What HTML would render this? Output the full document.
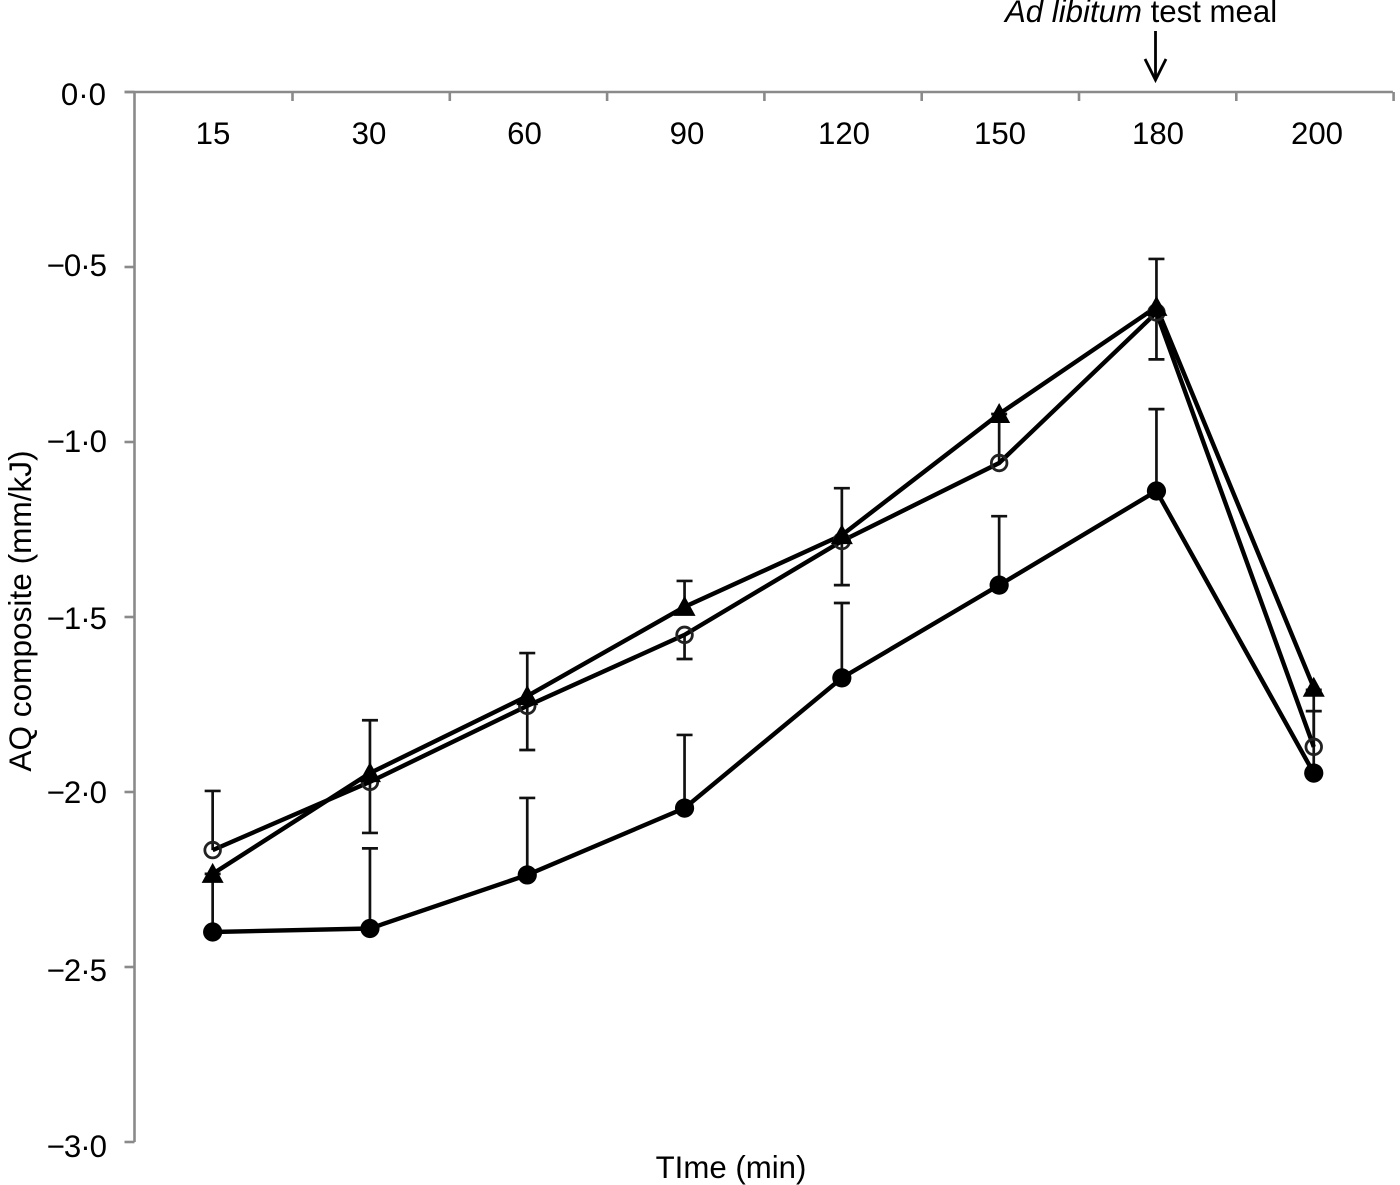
<!DOCTYPE html>
<html lang="en">
<head>
<meta charset="utf-8">
<title>AQ composite over time</title>
<style>
html,body{margin:0;padding:0;background:#fff;width:1400px;height:1185px;overflow:hidden}
svg{display:block;font-family:"Liberation Sans",sans-serif;fill:#000}
text{font-size:31.2px}
.neg{letter-spacing:-1px}
</style>
</head>
<body>
<svg id="chart" xmlns="http://www.w3.org/2000/svg" width="1400" height="1185" viewBox="0 0 1400 1185">
  <text x="1005" y="22"><tspan font-style="italic">Ad libitum</tspan> test meal</text>
  <g fill="none" stroke="#000" stroke-width="2.8">
    <line x1="1155.5" y1="31" x2="1155.5" y2="79"/>
    <polyline points="1145,59 1155.5,80 1166,59"/>
  </g>
  <text transform="translate(31,611) rotate(-90)" text-anchor="middle" style="font-size:31.6px">AQ composite (mm/kJ)</text>
  <text x="731" y="1178" text-anchor="middle">TIme (min)</text>
  <g text-anchor="end">
    <text x="106" y="105">0·0</text>
    <text class="neg" x="106" y="276">−0·5</text>
    <text class="neg" x="106" y="452">−1·0</text>
    <text class="neg" x="106" y="629">−1·5</text>
    <text class="neg" x="106" y="803">−2·0</text>
    <text class="neg" x="106" y="981">−2·5</text>
    <text class="neg" x="106" y="1157">−3·0</text>
  </g>
  <g text-anchor="middle">
    <text x="213" y="144">15</text>
    <text x="369" y="144">30</text>
    <text x="524.5" y="144">60</text>
    <text x="687" y="144">90</text>
    <text x="844" y="144">120</text>
    <text x="1000" y="144">150</text>
    <text x="1158" y="144">180</text>
    <text x="1317" y="144">200</text>
  </g>
</svg>
<script>
const categories = ['15','30','60','90','120','150','180','200'];
const yTicks = [0,-0.5,-1,-1.5,-2,-2.5,-3];

const filledValues = [-2.40,-2.39,-2.237,-2.046,-1.674,-1.409,-1.14,-1.946];
const openValues = [-2.166,-1.971,-1.754,-1.551,-1.283,-1.06,-0.63,-1.871];
const triangleValues = [-2.234,-1.946,-1.726,-1.471,-1.266,-0.92,-0.614,-1.702];

const filledErrUp = [0.166,0.229,0.22,0.209,0.214,0.197,0.234,0.177];
const openErrUp = [0.169,null,null,null,null,0.14,null,0.163];
const openErrDown = [null,0.146,0.126,0.069,0.126,null,0.134,null];
const triangleErrUp = [null,0.151,0.123,0.074,0.134,null,0.137,null];

const svg = document.getElementById('chart');
const NS = 'http://www.w3.org/2000/svg';
const plotLeft = 134.5, bandWidth = 157.3, zeroY = 92, unitY = 350;
const xAt = i => plotLeft + bandWidth * (i + 0.5) - 0.5;
const yAt = v => zeroY - unitY * v;

function make(tag, attrs, parent) {
  const el = document.createElementNS(NS, tag);
  for (const k in attrs) el.setAttribute(k, attrs[k]);
  (parent || svg).appendChild(el);
  return el;
}

const axisAttrs = {stroke:'#8a8a8a','stroke-width':2.6};
const yAxis = make('line', Object.assign({x1:plotLeft,x2:plotLeft,y1:yAt(0),y2:yAt(-3)}, axisAttrs));


const xAxis = make('line', Object.assign({x1:plotLeft-10,x2:plotLeft+bandWidth*8,y1:yAt(0),y2:yAt(0)}, axisAttrs));



yTicks.forEach((t) => {
  const tick = make('line', Object.assign({x1:plotLeft-10,x2:plotLeft,y1:yAt(t),y2:yAt(t)}, axisAttrs));
  
  
});

categories.forEach((c, i) => {
  const tx = plotLeft + bandWidth * (i + 1) + 0.7;
  const tick = make('line', Object.assign({x1:tx,x2:tx,y1:zeroY,y2:zeroY+9}, axisAttrs));
  
  
});

function errorBar(i, from, to) {
  const g = make('g', {stroke:'#111','stroke-width':2.7,fill:'none'});
  
  
  make('line', {x1:xAt(i),x2:xAt(i),y1:yAt(from),y2:yAt(to)}, g);
  make('line', {x1:xAt(i)-8,x2:xAt(i)+8,y1:yAt(to),y2:yAt(to)}, g);
}
function errors(values, errs, sign) {
  errs.forEach((e, i) => {
    if (e !== null) errorBar(i, values[i], values[i] + sign * e);
  });
}
errors(filledValues, filledErrUp, 1);
errors(openValues, openErrUp, 1);
errors(openValues, openErrDown, -1);
errors(triangleValues, triangleErrUp, 1);

function seriesLine(values, name) {
  const pts = values.map((v, i) => xAt(i) + ',' + yAt(v)).join(' ');
  const line = make('polyline', {points:pts,fill:'none',stroke:'#000','stroke-width':4.4,'stroke-linejoin':'miter'});
  
  
}
seriesLine(filledValues, 'filled-circle-series-line');
seriesLine(openValues, 'open-circle-series-line');
seriesLine(triangleValues, 'triangle-series-line');

openValues.forEach((v, i) => {
  const m = make('circle', {cx:xAt(i),cy:yAt(v),r:7.8,fill:'none',stroke:'#222','stroke-width':2.8});
  
  
});
filledValues.forEach((v, i) => {
  const m = make('circle', {cx:xAt(i),cy:yAt(v),r:9.6,fill:'#000'});
  
  
});
triangleValues.forEach((v, i) => {
  const x = xAt(i), y = yAt(v);
  const m = make('polygon', {points:(x-11)+','+(y+9)+' '+(x+11)+','+(y+9)+' '+x+','+(y-11),fill:'#000'});
  
  
});
</script>
</body>
</html>
